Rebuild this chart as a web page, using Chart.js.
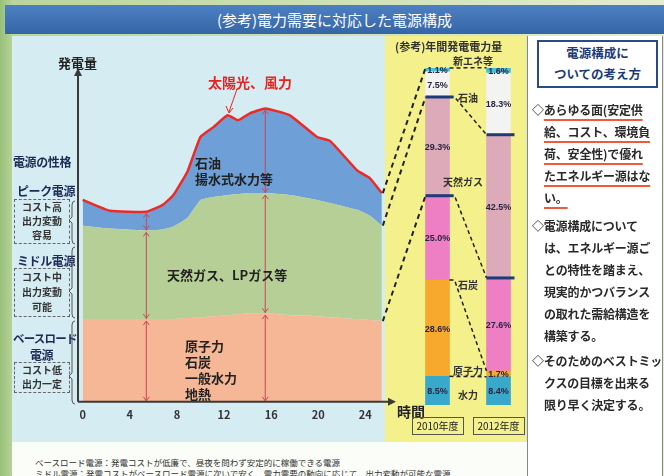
<!DOCTYPE html>
<html lang="ja">
<head>
<meta charset="utf-8">
<title>電力需要に対応した電源構成</title>
<script src="https://cdn.jsdelivr.net/npm/chart.js@4.4.0/dist/chart.umd.min.js"></script>
<style>
  html, body { margin: 0; padding: 0; }
  body {
    width: 664px; height: 476px; overflow: hidden; position: relative;
    font-family: "Noto Sans CJK JP", "Noto Sans", sans-serif;
    background: linear-gradient(90deg, #98c078 0%, #b9d59c 2%, #e4edcf 100%);
  }
  .abs { position: absolute; white-space: nowrap; }
  #title {
    left: 5px; top: 5px; width: 659px; height: 29px; line-height: 29px;
    background: linear-gradient(#4d80c2, #3465a7); color: #fff; font-size: 15px; text-align: center;
  }
  #mainPanel { left: 12px; top: 36px; width: 373px; height: 406px; background: #d5ecf3; }
  #yellowPanel { left: 385px; top: 36px; width: 141px; height: 406px; background: #f4f08b; }
  #rightPanel { left: 527px; top: 36px; width: 134px; height: 445px; background: #fff; border-left: 1.5px solid #888; border-right: 1.5px solid #888; }
  #bottomPanel { left: 12px; top: 442px; width: 515px; height: 34px; background: #fbfdf8; }
  canvas { position: absolute; }
  .navy { color: #1c2a55; font-weight: bold; font-size: 12px; letter-spacing: -0.4px; }
  .box {
    position: absolute; border: 1px dashed #666; font-size: 10px; color: #333; text-align: center;
    line-height: 14px; font-weight: bold;
  }
  .inner { font-size: 13px; font-weight: bold; color: #222; line-height: 16px; }
  .cat { font-size: 10px; font-weight: bold; color: #333; transform: translate(-50%, -50%); }
  .year { border: 1.5px solid #555; font-size: 10px; color: #222; text-align: center; line-height: 15px; }
  .note { font-size: 12px; font-weight: bold; color: #2a2a2a; line-height: 22px; letter-spacing: -0.2px; }
  .note div { padding-left: 12px; }
  .note div.lead { padding-left: 0; }
  .ul { text-decoration: underline; text-decoration-color: #f05a3c; text-decoration-thickness: 1.5px; text-underline-offset: 4px; }
</style>
</head>
<body>
<div id="title" class="abs">(参考)電力需要に対応した電源構成</div>
<div id="mainPanel" class="abs"></div>
<div id="yellowPanel" class="abs"></div>
<div id="rightPanel" class="abs"></div>
<div id="bottomPanel" class="abs"></div>

<canvas id="demandChart" width="400" height="440" style="left:0;top:0"></canvas>
<canvas id="mixChart" width="165" height="360" style="left:370px;top:60px"></canvas>

<!-- left captions -->
<div class="abs" style="left:58px;top:53px;font-size:13px;font-weight:bold;color:#222">発電量</div>
<div class="abs navy" style="left:13px;top:153px">電源の性格</div>
<div class="abs navy" style="left:17px;top:182px">ピーク電源</div>
<div class="box" style="left:14px;top:199px;width:54px;height:43px">コスト高<br>出力変動<br>容易</div>
<div class="abs navy" style="left:17px;top:252px">ミドル電源</div>
<div class="box" style="left:14px;top:268px;width:54px;height:47px;line-height:15px">コスト中<br>出力変動<br>可能</div>
<div class="abs navy" style="left:13px;top:330px;font-size:11.5px;letter-spacing:-0.8px">ベースロード</div>
<div class="abs navy" style="left:30px;top:346px">電源</div>
<div class="box" style="left:14px;top:362px;width:54px;height:29px">コスト低<br>出力一定</div>
<svg class="abs" style="left:0;top:0" width="80" height="410">
  <g fill="none" stroke="#555" stroke-width="1">
    <path d="M75,201 Q72,201 72,205 L72,217 L69,220 L72,223 L72,240 Q72,244 75,244"/>
    <path d="M75,247 Q72,247 72,251 L72,288 L69,291 L72,294 L72,314 Q72,318 75,318"/>
    <path d="M75,321 Q72,321 72,325 L72,373 L69,376 L72,379 L72,400 Q72,404 75,404"/>
  </g>
</svg>

<!-- labels inside the load curve -->
<div class="abs" style="left:208px;top:72px;font-size:14px;font-weight:bold;color:#e8241f">太陽光、風力</div>
<svg class="abs" style="left:0;top:0" width="400" height="130">
  <line x1="237" y1="89" x2="229" y2="112" stroke="#e8241f" stroke-width="1"/>
  <path d="M226,106 L229,113 L233,108" fill="none" stroke="#e8241f" stroke-width="1"/>
</svg>
<div class="abs inner" style="left:195px;top:155px">石油<br>揚水式水力等</div>
<div class="abs inner" style="left:167px;top:267px">天然ガス、LPガス等</div>
<div class="abs inner" style="left:185px;top:338px">原子力<br>石炭<br>一般水力<br>地熱</div>
<div class="abs" style="left:397px;top:401px;font-size:14px;font-weight:bold;color:#222">時間</div>

<!-- yellow panel captions -->
<div class="abs" style="left:395px;top:38px;font-size:11px;font-weight:bold;color:#333">(参考)年間発電電力量</div>
<div class="abs cat" style="left:473px;top:60px">新エネ等</div>
<div class="abs cat" style="left:468px;top:97px">石油</div>
<div class="abs cat" style="left:463px;top:181px">天然ガス</div>
<div class="abs cat" style="left:468px;top:284px">石炭</div>
<div class="abs cat" style="left:468px;top:370px">原子力</div>
<div class="abs cat" style="left:468px;top:394px">水力</div>
<div id="yearLabels"></div>

<!-- right panel -->
<div class="abs" style="left:537px;top:40px;width:117px;height:44px;border:2px solid #2a4a8a;color:#1c3a78;font-size:12.5px;font-weight:bold;text-align:center;line-height:21px">電源構成に<br>ついての考え方</div>
<div class="abs note" style="left:532px;top:99px">
  <div class="lead">◇<span class="ul">あらゆる面(安定供</span></div>
  <div><span class="ul">給、コスト、環境負</span></div>
  <div><span class="ul">荷、安全性)で優れ</span></div>
  <div><span class="ul">たエネルギー源はな</span></div>
  <div><span class="ul">い。</span></div>
</div>
<div class="abs note" style="left:532px;top:215px">
  <div class="lead">◇電源構成について</div>
  <div>は、エネルギー源ご</div>
  <div>との特性を踏まえ、</div>
  <div>現実的かつバランス</div>
  <div>の取れた需給構造を</div>
  <div>構築する。</div>
</div>
<div class="abs note" style="left:532px;top:350px">
  <div class="lead">◇そのためのベストミッ</div>
  <div>クスの目標を出来る</div>
  <div>限り早く決定する。</div>
</div>

<!-- footnote -->
<div class="abs" style="left:35px;top:457px;font-size:8.5px;color:#333;line-height:11px">ベースロード電源：発電コストが低廉で、昼夜を問わず安定的に稼働できる電源<br>ミドル電源：発電コストがベースロード電源に次いで安く、電力需要の動向に応じて、出力変動が可能な電源</div>

<script>
// --- Daily load curve (relative units) ---
const hours = [0, 1.2, 2.3, 5.4, 6.8, 7.7, 8.9, 10, 11.1, 12.3, 13.2, 14.2, 15.5, 17.6, 19.9, 21, 23.3, 24.4, 25.4];
const baseLoad = [84, 84, 84, 84, 84, 84, 85, 86, 87, 88, 89, 90, 90, 88, 87, 86, 84, 83, 82];
const middleLoad = [95, 93, 92, 90, 91, 94, 102, 119, 121, 122, 122, 122, 122, 122, 118, 116, 111, 106, 97];
const peakLoad = [26, 22, 18, 19, 25, 32, 47, 64, 71, 81, 75, 81, 86, 81, 64, 63, 40, 38, 33];
const hourTicks = [0, 4, 8, 12, 16, 20, 24];
const arrowAt = [3, 12]; // indexes where the red double arrows stand

// --- Annual generation mix (%) ---
const fiscalYears = ['2010年度', '2012年度'];
const sources = ['水力', '原子力', '石炭', '天然ガス', '石油', '新エネ等'];
const share2010 = [8.5, 28.6, 25.0, 29.3, 7.5, 1.1];
const share2012 = [8.4, 1.7, 27.6, 42.5, 18.3, 1.6];

const sourceColors = ['#38a9cb', '#f6a92c', '#ee7fc4', '#dcaab9', '#f3f3f1', '#43c3d9'];

Chart.defaults.font.family = '"Noto Sans CJK JP", "Liberation Sans", sans-serif';

function chevron(ctx, x, y, dir) {
  ctx.beginPath();
  ctx.moveTo(x - 3, y + 4 * dir);
  ctx.lineTo(x, y);
  ctx.lineTo(x + 3, y + 4 * dir);
  ctx.stroke();
}

const axisPlugin = {
  id: 'axes',
  afterDatasetsDraw(chart) {
    const { ctx, chartArea: a, scales: { x, y } } = chart;
    ctx.save();

    // red double arrows through each band
    ctx.strokeStyle = '#c8465a';
    ctx.lineWidth = 1;
    arrowAt.forEach(i => {
      const px = x.getPixelForValue(hours[i]);
      let cum = 0;
      [baseLoad, middleLoad, peakLoad].forEach(layer => {
        const y0 = y.getPixelForValue(cum);
        cum += layer[i];
        const y1 = y.getPixelForValue(cum) + 2;
        ctx.beginPath(); ctx.moveTo(px, y0); ctx.lineTo(px, y1); ctx.stroke();
        chevron(ctx, px, y1, 1);
        chevron(ctx, px, y0 - 1, -1);
      });
    });

    // axes with arrow heads
    ctx.strokeStyle = '#3a3a3a';
    ctx.fillStyle = '#3a3a3a';
    ctx.lineWidth = 2;
    ctx.beginPath();
    ctx.moveTo(a.left, a.bottom);
    ctx.lineTo(a.left, a.top + 4);
    ctx.moveTo(a.left, a.bottom);
    ctx.lineTo(a.right + 8, a.bottom);
    ctx.stroke();
    ctx.beginPath();
    ctx.moveTo(a.left, a.top - 2); ctx.lineTo(a.left - 4, a.top + 6); ctx.lineTo(a.left + 4, a.top + 6);
    ctx.fill();
    ctx.beginPath();
    ctx.moveTo(a.right + 13, a.bottom); ctx.lineTo(a.right + 5, a.bottom - 4); ctx.lineTo(a.right + 5, a.bottom + 4);
    ctx.fill();
    ctx.restore();
  },
};

const demandChart = new Chart(document.getElementById('demandChart'), {
  type: 'line',
  data: {
    datasets: [
      { label: 'ベースロード電源', data: hours.map((h, i) => ({ x: h, y: baseLoad[i] })),
        backgroundColor: '#f5b795', borderColor: 'rgba(0,0,0,0)', borderWidth: 0, fill: 'origin' },
      { label: 'ミドル電源', data: hours.map((h, i) => ({ x: h, y: middleLoad[i] })),
        backgroundColor: '#b6cf97', borderColor: 'rgba(0,0,0,0)', borderWidth: 0, fill: '-1' },
      { label: 'ピーク電源', data: hours.map((h, i) => ({ x: h, y: peakLoad[i] })),
        backgroundColor: '#6e9fd6', borderColor: '#ec2a26', borderWidth: 2.5, fill: '-1' },
    ],
  },
  options: {
    responsive: false,
    animation: false,
    elements: { point: { radius: 0 }, line: { tension: 0.12 } },
    layout: { padding: { left: 78, right: 17, top: 70, bottom: 13 } },
    plugins: { legend: { display: false }, tooltip: { enabled: false } },
    scales: {
      x: {
        type: 'linear', min: -0.4, max: 25.5,
        grid: { display: false, drawTicks: false },
        border: { display: false },
        ticks: { color: '#333', font: { size: 11, weight: 'bold' }, padding: 6 },
        afterBuildTicks: s => { s.ticks = hourTicks.map(v => ({ value: v })); },
      },
      y: { display: false, stacked: true, min: 0, max: 337 },
    },
  },
  plugins: [axisPlugin],
});

// --- Mix bars, labels and dashed links ---
const mixPlugin = {
  id: 'mixLabels',
  afterDatasetsDraw(chart) {
    const { ctx } = chart;
    const bars = sources.map((_, i) => chart.getDatasetMeta(i).data);
    const shares = [share2010, share2012];
    const off = { x: 0 - 370, y: 0 - 60 }; // demand canvas -> this canvas
    ctx.save();

    // dashed links from the load curve into the 2010 bar
    ctx.strokeStyle = '#222';
    ctx.lineWidth = 2;
    ctx.setLineDash([5, 4]);
    [[0, 2], [1, 3], [2, 5]].forEach(([layer, src]) => {
      const pts = demandChart.getDatasetMeta(layer).data;
      const p = pts[pts.length - 1];
      const b = bars[src][0];
      ctx.beginPath();
      ctx.moveTo(p.x + off.x + 1, p.y + off.y);
      ctx.lineTo(b.x - b.width / 2, b.y);
      ctx.stroke();
    });

    // dashed links between the two years
    ctx.lineWidth = 1.5;
    ctx.setLineDash([4, 3]);
    [0, 1, 2, 3, 5].forEach(i => {
      const a = bars[i][0], b = bars[i][1];
      ctx.beginPath();
      ctx.moveTo(a.x + a.width / 2, a.y);
      if (Math.abs(a.y - b.y) > 2) ctx.lineTo(a.x + a.width / 2 + 5, a.y);
      ctx.lineTo(b.x - b.width / 2, b.y);
      ctx.stroke();
    });
    ctx.setLineDash([]);

    // navy rules at the top of coal and gas
    ctx.fillStyle = '#1f3a78';
    [2, 3].forEach(i => bars[i].forEach(b => {
      ctx.fillRect(b.x - b.width / 2, b.y - 1.5, b.width + 4, 3);
    }));

    // percentages
    ctx.fillStyle = '#2b2440';
    ctx.font = 'bold 9px "Liberation Sans", sans-serif';
    ctx.textAlign = 'center';
    ctx.textBaseline = 'middle';
    bars.forEach((col, i) => col.forEach((b, j) => {
      ctx.fillText(shares[j][i].toFixed(1) + '%', b.x, (b.y + b.base) / 2 + 1);
    }));
    ctx.restore();
  },
};

const mixChart = new Chart(document.getElementById('mixChart'), {
  type: 'bar',
  data: {
    labels: fiscalYears,
    datasets: sources.map((s, i) => ({
      label: s,
      data: [share2010[i], share2012[i]],
      backgroundColor: sourceColors[i],
      borderWidth: 0,
      barThickness: 24,
    })),
  },
  options: {
    responsive: false,
    animation: false,
    layout: { padding: { left: 37, right: 6, top: 8, bottom: 15 } },
    plugins: { legend: { display: false }, tooltip: { enabled: false } },
    scales: {
      x: { display: false, stacked: true },
      y: { display: false, stacked: true, min: 0, max: 100 },
    },
  },
  plugins: [mixPlugin],
});

// year boxes under each bar
const yearBox = document.getElementById('yearLabels');
const xs = mixChart.scales.x;
yearBox.innerHTML = fiscalYears.map((y, i) => {
  const cx = 370 + xs.getPixelForTick(i);
  return `<div class="abs year" style="left:${cx - 26}px;top:417px;width:50px;height:16px">${y}</div>`;
}).join('');
</script>
</body>
</html>
